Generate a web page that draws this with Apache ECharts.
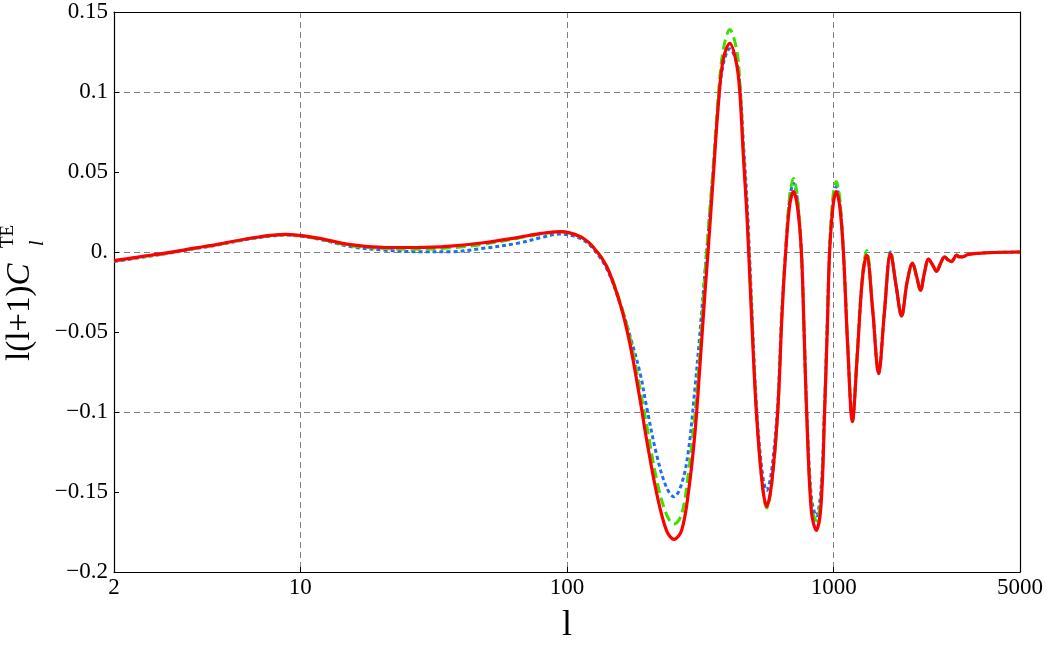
<!DOCTYPE html>
<html>
<head>
<meta charset="utf-8">
<script src="https://cdn.jsdelivr.net/npm/echarts@6/dist/echarts.min.js"></script>
<style>
html,body{margin:0;padding:0;background:#fff;}
#chart{width:1046px;height:645px;}
</style>
</head>
<body>
<div id="chart"></div>
<script>
// multipole l values (shared by the three curves)
const ells = [2, 2.5, 3.2, 4, 4.9, 6.5, 8.8, 11.5, 15.4, 20.5, 27.4, 36.5, 48.6, 65, 80, 94, 112, 125, 141, 158, 172, 188, 199, 217, 236, 252, 269, 285, 302, 315, 329, 338, 353, 369, 385, 408, 432, 445, 458, 474, 489, 513, 540, 561, 585, 617, 640, 661, 684, 707, 732, 757, 775, 792, 825, 861, 897, 925, 946, 966, 995, 1023, 1055, 1088, 1130, 1176, 1225, 1280, 1330, 1400, 1475, 1550, 1635, 1715, 1798, 1885, 1977, 2045, 2118, 2190, 2270, 2350, 2432, 2520, 2605, 2690, 2767, 2830, 2890, 2960, 3043, 3200, 3500, 4000, 5000];

// blue dotted curve
const blueVals = [-0.006, -0.0035, -0.0008, 0.002, 0.0044, 0.0082, 0.0106, 0.0083, 0.0034, 0.0012, 0.0002, 0.0002, 0.0023, 0.0054, 0.0090, 0.0112, 0.0085, 0.0023, -0.0105, -0.032, -0.052, -0.0758, -0.097, -0.127, -0.147, -0.153, -0.145, -0.125, -0.085, -0.051, -0.013, 0.010, 0.050, 0.092, 0.117, 0.127, 0.119, 0.104, 0.070, 0.030, -0.020, -0.095, -0.138, -0.149, -0.137, -0.095, -0.035, 0.0, 0.033, 0.043, 0.032, 0.0, -0.050, -0.098, -0.153, -0.165, -0.148, -0.095, -0.045, 0.002, 0.032, 0.041, 0.030, 0.0, -0.059, -0.105, -0.065, -0.017, -0.001, -0.035, -0.076, -0.038, 0.0, -0.021, -0.040, -0.019, -0.007, -0.015, -0.024, -0.013, -0.0045, -0.008, -0.012, -0.007, -0.003, -0.005, -0.006, -0.004, -0.002, -0.003, -0.003, -0.0015, -0.0008, -0.0003, 0.0];

// green dashed curve
const greenVals = [-0.0055, -0.0032, -0.0006, 0.0022, 0.0046, 0.0084, 0.0108, 0.0085, 0.0040, 0.0022, 0.0017, 0.0026, 0.0048, 0.0085, 0.0113, 0.0127, 0.0097, 0.0035, -0.009, -0.031, -0.053, -0.086, -0.108, -0.1425, -0.164, -0.170, -0.164, -0.139, -0.101, -0.062, -0.014, 0.012, 0.052, 0.097, 0.126, 0.139, 0.127, 0.106, 0.066, 0.022, -0.025, -0.098, -0.146, -0.160, -0.146, -0.100, -0.038, 0.002, 0.035, 0.046, 0.034, 0.0, -0.050, -0.100, -0.158, -0.168, -0.153, -0.097, -0.047, 0.002, 0.035, 0.044, 0.033, 0.0, -0.058, -0.105, -0.064, -0.016, 0.001, -0.034, -0.075, -0.037, 0.0, -0.021, -0.040, -0.019, -0.007, -0.015, -0.024, -0.013, -0.0045, -0.008, -0.012, -0.007, -0.003, -0.005, -0.006, -0.004, -0.002, -0.003, -0.003, -0.0015, -0.0008, -0.0003, 0.0];

// red solid curve
const redVals = [-0.0054, -0.003, -0.0004, 0.0024, 0.0048, 0.0086, 0.0110, 0.0088, 0.0046, 0.0029, 0.0028, 0.0037, 0.0058, 0.0090, 0.0116, 0.0127, 0.0096, 0.0033, -0.0092, -0.032, -0.057, -0.0925, -0.1175, -0.151, -0.174, -0.1796, -0.174, -0.151, -0.113, -0.0717, -0.026, 0.0, 0.045, 0.0908, 0.120, 0.1304, 0.118, 0.0992, 0.0617, 0.020, -0.030, -0.100, -0.145, -0.159, -0.145, -0.100, -0.040, 0.0, 0.029, 0.0377, 0.028, 0.0, -0.050, -0.100, -0.162, -0.174, -0.158, -0.100, -0.050, 0.0, 0.029, 0.0377, 0.028, 0.0, -0.060, -0.106, -0.066, -0.018, -0.002, -0.036, -0.076, -0.038, -0.001, -0.021, -0.040, -0.019, -0.007, -0.015, -0.024, -0.013, -0.0045, -0.008, -0.012, -0.007, -0.003, -0.005, -0.006, -0.004, -0.002, -0.003, -0.003, -0.0015, -0.0008, -0.0003, 0.0];

const xMin = 2, xMax = 5000;
const yMin = -0.2, yMax = 0.15, yStep = 0.05, gridStep = 0.1;

const FONT = '"Liberation Serif", "Times New Roman", serif';

function pairs(vals) { return ells.map((l, i) => [l, vals[i]]); }

const chart = echarts.init(document.getElementById('chart'), null, {renderer: 'canvas'});

const gridLine = {show: true, lineStyle: {color: '#808080', width: 1, type: [6, 4]}, showMinLine: false, showMaxLine: false};

const option = {
  animation: false,
  backgroundColor: '#fff',
  grid: {left: 114, right: 26, top: 12, bottom: 73, containLabel: false, outerBoundsMode: 'none'},
  xAxis: [
    {
      type: 'log', logBase: 10, min: xMin, max: xMax, position: 'bottom',
      axisLine: {show: true, onZero: false, lineStyle: {color: '#000', width: 1.2}},
      axisTick: {show: true, inside: true, length: 5, lineStyle: {color: '#000'}},
      minorTick: {show: false},
      axisLabel: {show: true, fontFamily: FONT, fontSize: 23, color: '#000', margin: 4,
        showMinLabel: true, showMaxLabel: true,
        formatter: v => String(Math.round(v))},
      splitLine: gridLine,
      name: 'l', nameLocation: 'middle', nameGap: 36,
      nameTextStyle: {fontFamily: FONT, fontSize: 36, color: '#000'}
    },
    {
      type: 'log', logBase: 10, min: xMin, max: xMax, position: 'top',
      axisLine: {show: true, onZero: false, lineStyle: {color: '#000', width: 1.2}},
      axisTick: {show: false}, axisLabel: {show: false}, splitLine: {show: false}
    }
  ],
  yAxis: [
    {
      type: 'value', min: yMin, max: yMax, interval: yStep, position: 'left',
      axisLine: {show: true, onZero: false, lineStyle: {color: '#000', width: 1.2}},
      axisTick: {show: true, inside: true, length: 5, lineStyle: {color: '#000'}},
      axisLabel: {show: true, fontFamily: FONT, fontSize: 23, color: '#000', margin: 6,
        formatter: v => {
          const r = Math.round(v * 100) / 100;
          if (r === 0) return '0.';
          return (r < 0 ? '\u2212' : '') + String(Math.abs(r));
        }},
      splitLine: {show: false}
    },
    {
      type: 'value', min: yMin, max: yMax, interval: gridStep, position: 'right',
      axisLine: {show: true, onZero: false, lineStyle: {color: '#000', width: 1.2}},
      axisTick: {show: false}, axisLabel: {show: false},
      splitLine: gridLine
    }
  ],
  graphic: [
    {
      type: 'text', x: 4, y: 361, rotation: Math.PI / 2, z: 10,
      style: {
        text: '{a|l(l+1)}{c|C}',
        align: 'left', verticalAlign: 'top',
        fill: '#000',
        rich: {
          a: {fontFamily: FONT, fontSize: 33, fill: '#000', color: '#000'},
          c: {fontFamily: FONT, fontSize: 33, fontStyle: 'italic', fill: '#000', color: '#000'}
        }
      }
    },
    {
      type: 'text', x: -1, y: 248, rotation: Math.PI / 2, z: 10,
      style: {text: 'TE', font: '19px ' + FONT, fill: '#000', align: 'left', verticalAlign: 'top'}
    },
    {
      type: 'text', x: 28, y: 246, rotation: Math.PI / 2, z: 10,
      style: {text: 'l', font: 'italic 20px ' + FONT, fill: '#000', align: 'left', verticalAlign: 'top'}
    }
  ],
  series: [
    {
      type: 'line', name: 'blue', xAxisIndex: 0, yAxisIndex: 0, data: pairs(blueVals),
      showSymbol: false, smooth: 0.35, clip: true,
      lineStyle: {color: '#1c6ff0', width: 3, type: [4, 3]}
    },
    {
      type: 'line', name: 'green', xAxisIndex: 0, yAxisIndex: 0, data: pairs(greenVals),
      showSymbol: false, smooth: 0.35, clip: true,
      lineStyle: {color: '#3de000', width: 3, type: [10, 5]}
    },
    {
      type: 'line', name: 'red', xAxisIndex: 0, yAxisIndex: 0, data: pairs(redVals),
      showSymbol: false, smooth: 0.35, clip: true,
      lineStyle: {color: '#ff0000', width: 3.2}
    }
  ]
};
chart.setOption(option);
</script>
</body>
</html>
